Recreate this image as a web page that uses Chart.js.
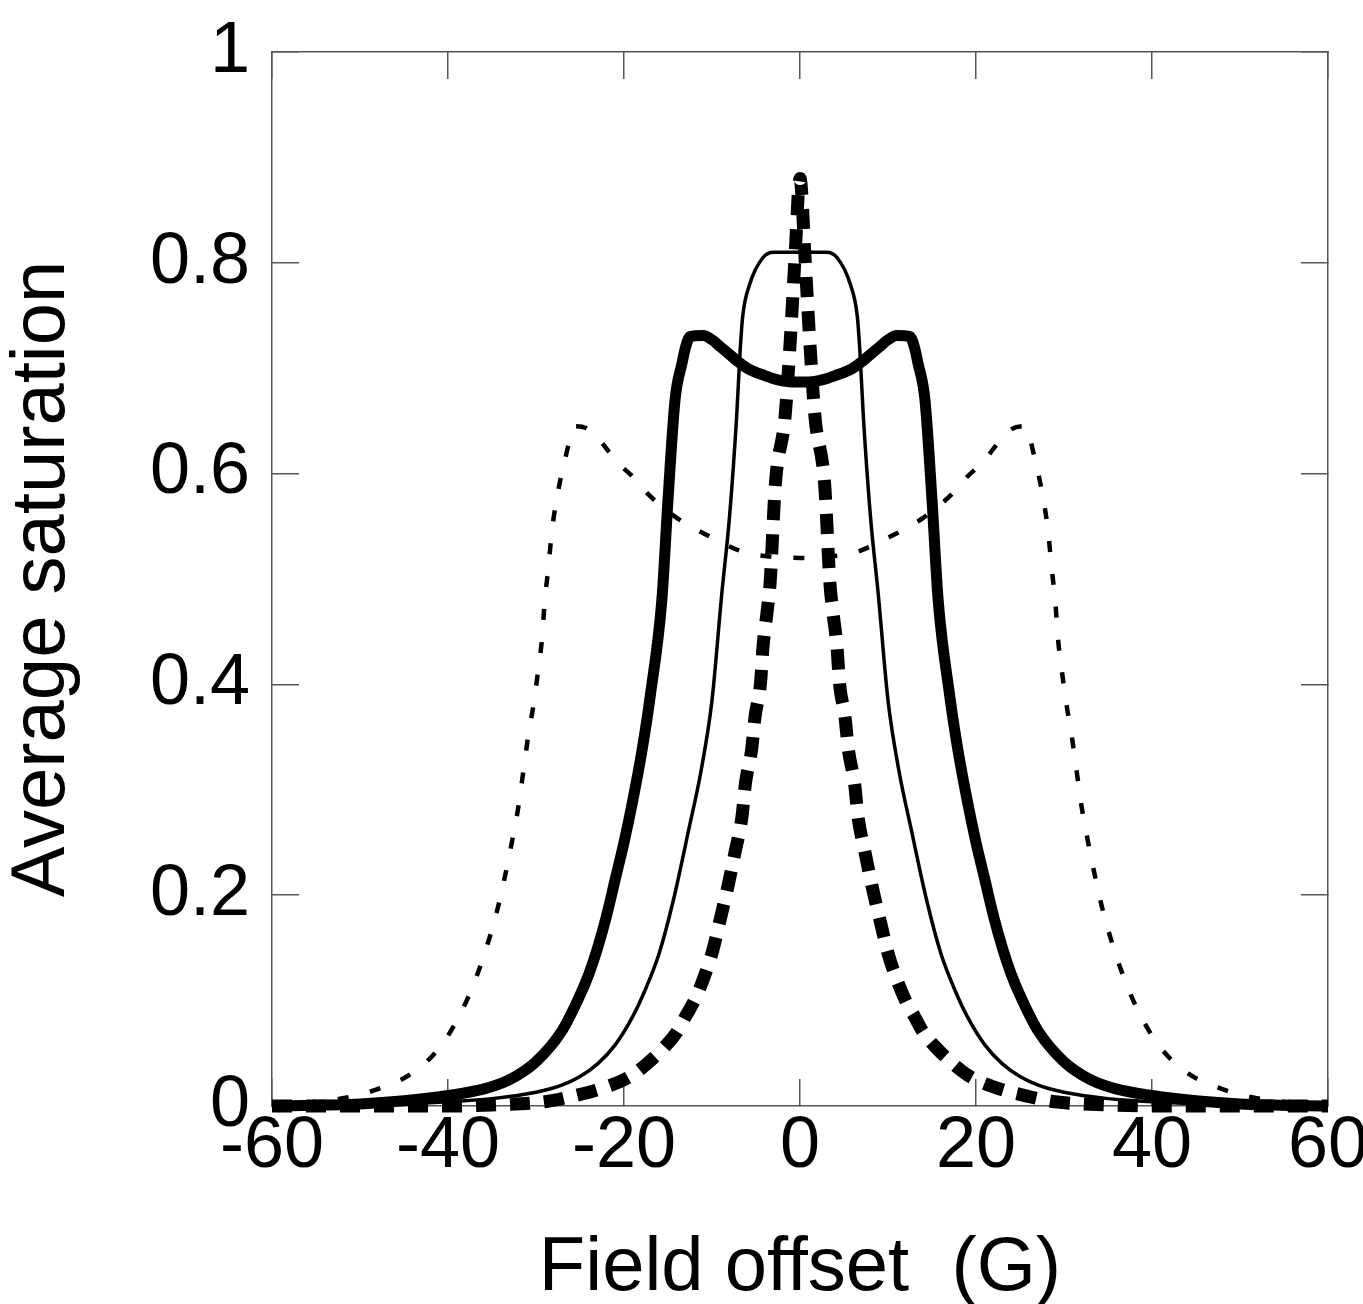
<!DOCTYPE html>
<html>
<head>
<meta charset="utf-8">
<title>Average saturation vs field offset</title>
<script src="https://cdn.jsdelivr.net/npm/chart.js@4.4.0/dist/chart.umd.min.js"></script>
<style>
  html, body { margin: 0; padding: 0; background: #fff; }
  #wrap { width: 1363px; height: 1304px; }
</style>
</head>
<body>
<div id="wrap"><canvas id="chart-saturation" width="1363" height="1304"></canvas></div>
<script>
// axis ticks
var xTicks = [-60, -40, -20, 0, 20, 40, 60];
var yTicks = [0, 0.2, 0.4, 0.6, 0.8, 1];

// thick solid curve (double hump, ~0.73)
var fieldThick = [-60, -50, -45, -40, -36, -33, -30, -27, -25, -24, -23, -22, -21, -20, -19, -18, -17, -15.7, -15, -14.2, -13.4, -13, -12.5, -11, -10, -9, -8, -7, -6, -5, -4, -3, -2, -1, 0,
                  1, 2, 3, 4, 5, 6, 7, 8, 9, 10, 11, 12.5, 13, 13.4, 14.2, 15, 15.7, 17, 18, 19, 20, 21, 22, 23, 24, 25, 27, 30, 33, 36, 40, 45, 50, 60];
var satThick = [0, 0.002, 0.005, 0.01, 0.016, 0.025, 0.042, 0.072, 0.105, 0.125, 0.15, 0.18, 0.215, 0.25, 0.29, 0.335, 0.39, 0.48, 0.575, 0.67, 0.705, 0.72, 0.73, 0.731, 0.727, 0.72, 0.713, 0.706, 0.70, 0.696, 0.693, 0.69, 0.688, 0.687, 0.687,
                0.687, 0.688, 0.69, 0.693, 0.696, 0.70, 0.706, 0.713, 0.72, 0.727, 0.731, 0.73, 0.72, 0.705, 0.67, 0.575, 0.48, 0.39, 0.335, 0.29, 0.25, 0.215, 0.18, 0.15, 0.125, 0.105, 0.072, 0.042, 0.025, 0.016, 0.01, 0.005, 0.002, 0];

// thin solid curve (flat top ~0.81)
var fieldThin = [-60, -50, -40, -35, -30, -27, -25, -23, -21, -19, -17.5, -16, -14.4, -12.7, -11.2, -10, -8.9, -8, -7.2, -6.8, -6.5, -5.7, -4.2, -3, 0,
                 3, 4.2, 5.7, 6.5, 6.8, 7.2, 8, 8.9, 10, 11.2, 12.7, 14.4, 16, 17.5, 19, 21, 23, 25, 27, 30, 35, 40, 50, 60];
var satThin = [0, 0.001, 0.004, 0.007, 0.013, 0.02, 0.028, 0.04, 0.058, 0.085, 0.112, 0.145, 0.195, 0.26, 0.32, 0.385, 0.485, 0.56, 0.654, 0.717, 0.75, 0.78, 0.805, 0.81, 0.81,
               0.81, 0.805, 0.78, 0.75, 0.717, 0.654, 0.56, 0.485, 0.385, 0.32, 0.26, 0.195, 0.145, 0.112, 0.085, 0.058, 0.04, 0.028, 0.02, 0.013, 0.007, 0.004, 0.001, 0];

// thick dashed curve (sharp peak ~0.88)
var fieldPeak = [-60, -40, -35, -29, -26, -22.4, -19.3, -17.4, -15.5, -14, -13, -12, -11, -10, -9.1, -8.2, -7.4, -6.6, -6.2, -5.5, -5.1, -4.5, -4.2, -3.75, -3.4, -2.8, -1.7, -1.1, -0.6, 0,
                 0.6, 1.1, 1.7, 2.8, 3.4, 3.75, 4.2, 4.5, 5.1, 5.5, 6.2, 6.6, 7.4, 8.2, 9.1, 10, 11, 12, 13, 14, 15.5, 17.4, 19.3, 22.4, 26, 29, 35, 40, 60];
var satPeak = [0, 0, 0.001, 0.004, 0.009, 0.017, 0.028, 0.04, 0.055, 0.07, 0.085, 0.10, 0.12, 0.145, 0.176, 0.208, 0.24, 0.274, 0.306, 0.338, 0.37, 0.40, 0.436, 0.468, 0.496, 0.59, 0.654, 0.727, 0.80, 0.88,
               0.80, 0.727, 0.654, 0.59, 0.496, 0.468, 0.436, 0.40, 0.37, 0.338, 0.306, 0.274, 0.24, 0.208, 0.176, 0.145, 0.12, 0.10, 0.085, 0.07, 0.055, 0.04, 0.028, 0.017, 0.009, 0.004, 0.001, 0, 0];

// thin dashed curve (wide double hump ~0.64)
var fieldWide = [-60, -55, -51.5, -48, -44.1, -40.9, -38.5, -36.8, -35.6, -34.4, -33.5, -32.7, -32, -31.4, -30.9, -30.3, -29.8, -29.3, -29, -28.6, -28.2, -27.6, -26.8, -25.5, -24, -22.5, -20.8, -19, -17.2, -14, -10.2, -6.2, -3, 0,
                 3, 6.2, 10.2, 14, 17.2, 19, 20.8, 22.5, 24, 25.5, 26.8, 27.6, 28.2, 28.6, 29, 29.3, 29.8, 30.3, 30.9, 31.4, 32, 32.7, 33.5, 34.4, 35.6, 36.8, 38.5, 40.9, 44.1, 48, 51.5, 55, 60];
var satWide = [0.002, 0.004, 0.008, 0.016, 0.031, 0.056, 0.089, 0.122, 0.151, 0.186, 0.219, 0.252, 0.284, 0.32, 0.35, 0.38, 0.41, 0.445, 0.48, 0.51, 0.545, 0.578, 0.61, 0.645, 0.642, 0.629, 0.611, 0.597, 0.58, 0.558, 0.54, 0.525, 0.521, 0.52,
               0.521, 0.525, 0.54, 0.558, 0.58, 0.597, 0.611, 0.629, 0.642, 0.645, 0.61, 0.578, 0.545, 0.51, 0.48, 0.445, 0.41, 0.38, 0.35, 0.32, 0.284, 0.252, 0.219, 0.186, 0.151, 0.122, 0.089, 0.056, 0.031, 0.016, 0.008, 0.004, 0.002];

function toPoints(xs, ys) {
    return xs.map(function (x, i) { return { x: x, y: ys[i] }; });
}

var fontFamily = '"Liberation Sans", Arial, sans-serif';
var axisColor = '#555';

function frameGrid() {
    return {
        drawOnChartArea: false,
        drawTicks: true,
        tickLength: -27,
        color: axisColor,
        lineWidth: 1.5
    };
}

var ctx = document.getElementById("chart-saturation").getContext("2d");

new Chart(ctx, {
    type: "line",
    data: {
        datasets: [{
            label: "thick",
            data: toPoints(fieldThick, satThick),
            borderColor: "#000",
            borderWidth: 11,
            borderJoinStyle: "round",
            pointRadius: 0,
            cubicInterpolationMode: "monotone",
            clip: false
        }, {
            label: "thin",
            data: toPoints(fieldThin, satThin),
            borderColor: "#000",
            borderWidth: 3.5,
            borderJoinStyle: "round",
            pointRadius: 0,
            cubicInterpolationMode: "monotone",
            clip: false
        }, {
            label: "peak",
            data: toPoints(fieldPeak, satPeak),
            borderColor: "#000",
            borderWidth: 13,
            borderDash: [20, 14],
            pointRadius: 0,
            cubicInterpolationMode: "monotone",
            clip: false
        }, {
            label: "wide",
            data: toPoints(fieldWide, satWide),
            borderColor: "#000",
            borderWidth: 4.5,
            borderDash: [11, 22],
            pointRadius: 0,
            cubicInterpolationMode: "monotone",
            clip: false
        }]
    },
    options: {
        responsive: false,
        animation: false,
        devicePixelRatio: 1,
        layout: {
            padding: { top: 52, right: 35, bottom: 0, left: 0 }
        },
        plugins: {
            legend: { display: false },
            tooltip: { enabled: false }
        },
        scales: {
            x: {
                type: "linear",
                position: "bottom",
                min: -60,
                max: 60,
                afterBuildTicks: function (s) { s.ticks = xTicks.map(function (v) { return { value: v }; }); },
                afterFit: function (s) { s.height = 198; s.paddingLeft = 0; s.paddingRight = 0; },
                grid: frameGrid(),
                border: { color: axisColor, width: 1.5 },
                ticks: {
                    color: "#000",
                    padding: 25,
                    maxRotation: 0,
                    autoSkip: false,
                    callback: function (v) { return String(v); },
                    font: { family: fontFamily, size: 72, lineHeight: 1.2 }
                },
                title: {
                    display: true,
                    text: "Field offset  (G)",
                    color: "#000",
                    font: { family: fontFamily, size: 76, lineHeight: 0.92 },
                    padding: { top: 0, bottom: 0 }
                }
            },
            y: {
                type: "linear",
                position: "left",
                min: 0,
                max: 1,
                afterBuildTicks: function (s) { s.ticks = yTicks.map(function (v) { return { value: v }; }); },
                afterFit: function (s) { s.width = 272; s.paddingTop = 0; s.paddingBottom = 0; },
                grid: frameGrid(),
                border: { color: axisColor, width: 1.5 },
                ticks: {
                    color: "#000",
                    padding: 49,
                    callback: function (v) { return String(v); },
                    font: { family: fontFamily, size: 72, lineHeight: 1.2 }
                },
                title: {
                    display: true,
                    text: "Average saturation",
                    color: "#000",
                    font: { family: fontFamily, size: 76, lineHeight: 1 },
                    padding: { top: 5, bottom: 0 }
                }
            },
            xTop: {
                type: "linear",
                position: "top",
                min: -60,
                max: 60,
                afterBuildTicks: function (s) { s.ticks = xTicks.map(function (v) { return { value: v }; }); },
                afterFit: function (s) { s.height = 0; s.paddingLeft = 0; s.paddingRight = 0; },
                grid: frameGrid(),
                border: { color: axisColor, width: 1.5 },
                ticks: { display: false }
            },
            yRight: {
                type: "linear",
                position: "right",
                min: 0,
                max: 1,
                afterBuildTicks: function (s) { s.ticks = yTicks.map(function (v) { return { value: v }; }); },
                afterFit: function (s) { s.width = 0; s.paddingTop = 0; s.paddingBottom = 0; },
                grid: frameGrid(),
                border: { color: axisColor, width: 1.5 },
                ticks: { display: false }
            }
        }
    }
});
</script>
</body>
</html>
